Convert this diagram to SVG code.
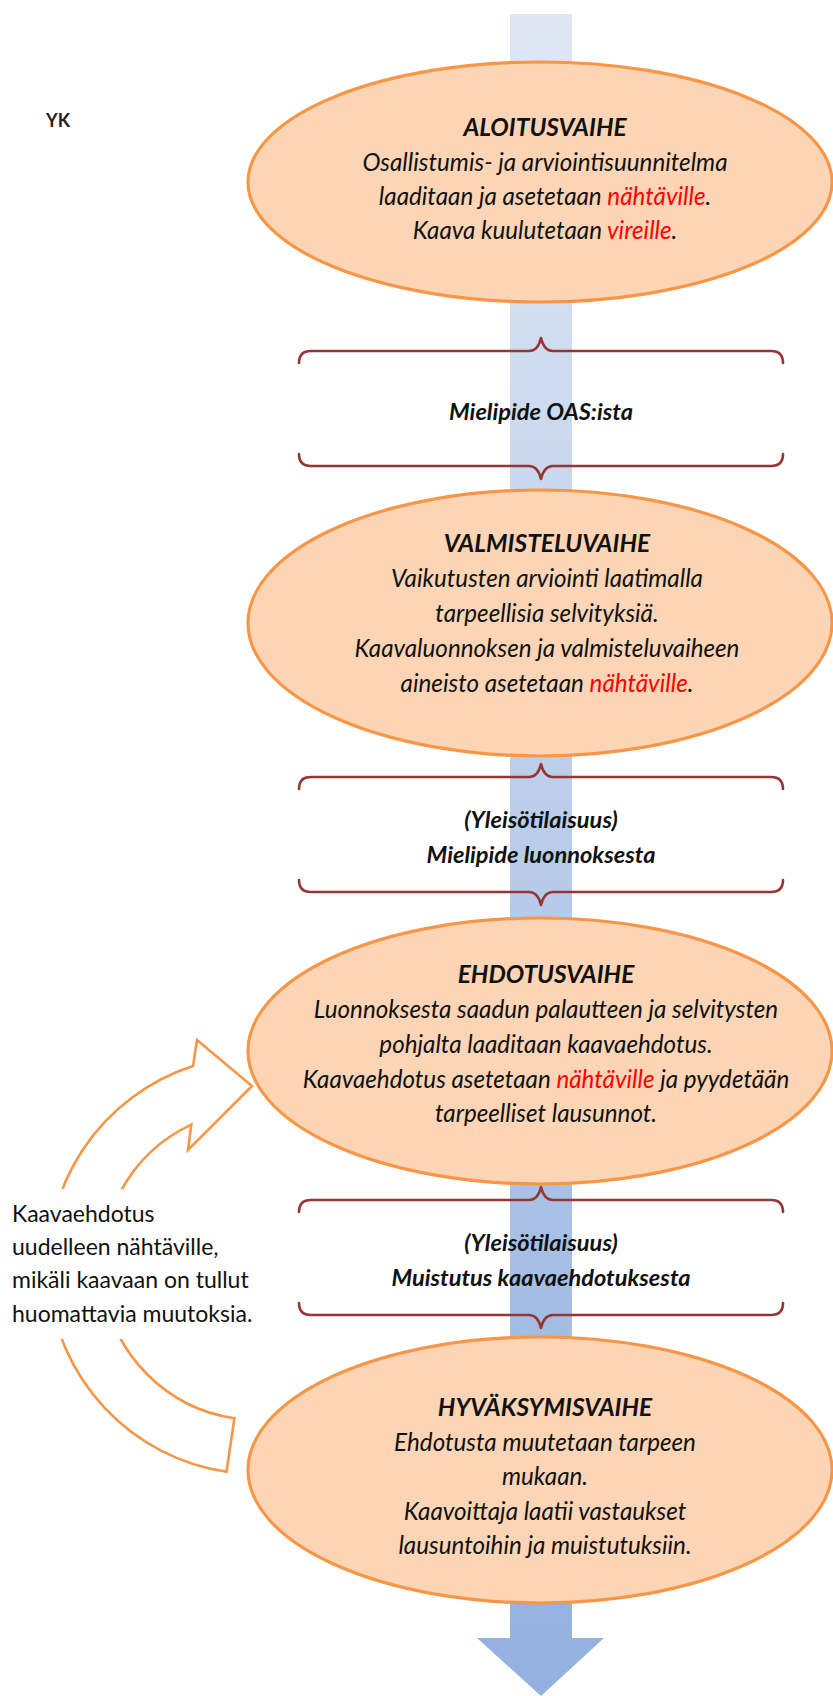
<svg xmlns="http://www.w3.org/2000/svg" width="833" height="1696" viewBox="0 0 833 1696">
<defs>
<linearGradient id="flow" x1="0" y1="14" x2="0" y2="1696" gradientUnits="userSpaceOnUse">
<stop offset="0" stop-color="#DFE7F5"/>
<stop offset="1" stop-color="#93B1DF"/>
</linearGradient>
<style>
.ell{fill:#FBD5B5;stroke:#F79646;stroke-width:3.2}
.brace{fill:none;stroke:#943634;stroke-width:2.6;stroke-linecap:round;stroke-linejoin:round}
.title{font-family:Lato,"Liberation Sans",sans-serif;font-weight:bold;font-style:italic;font-size:24.5px;fill:#111;text-anchor:middle}
.body{font-family:Lato,"Liberation Sans",sans-serif;font-style:italic;font-size:24.2px;fill:#111;text-anchor:middle}
.btxt{font-family:Lato,"Liberation Sans",sans-serif;font-style:italic;font-weight:bold;font-size:23.6px;fill:#111;text-anchor:middle}
.red{fill:#FF0000}
.side{font-family:Lato,"Liberation Sans",sans-serif;font-size:23px;fill:#111}
.loop{fill:#FFFFFF;stroke:#F79646;stroke-width:2.6;stroke-linejoin:miter}
</style>
</defs>
<rect width="833" height="1696" fill="#FFFFFF"/>

<g id="flow-arrow">
<path d="M510,14 L572,14 L572,1638 L604,1638 L541,1696 L477,1638 L510,1638 Z" fill="url(#flow)"/>
</g>

<g id="yk">
<text x="46" y="127" style="font-family:Lato,'Liberation Sans',sans-serif;font-weight:bold;font-size:18px;fill:#222">YK</text>
</g>

<g id="loop-arrow">
<path class="loop" d="M226.5,1471.7 A209,209 0 0 1 193.1,1066 L197,1040 L252,1086 L188,1150 L191.3,1124.6 A155,155 0 0 0 234.4,1418.3 Z"/>
<rect x="0" y="1189" width="262" height="150" fill="#FFFFFF"/>
<text class="side" x="12" y="1222">Kaavaehdotus</text>
<text class="side" x="12" y="1255">uudelleen nähtäville,</text>
<text class="side" x="12" y="1288">mikäli kaavaan on tullut</text>
<text class="side" x="12" y="1322">huomattavia muutoksia.</text>
</g>

<g id="aloitusvaihe">
<ellipse class="ell" cx="540" cy="182" rx="292" ry="120"/>
<text class="title" x="545" y="136">ALOITUSVAIHE</text>
<text class="body" x="545" y="171">Osallistumis- ja arviointisuunnitelma</text>
<text class="body" x="545" y="205">laaditaan ja asetetaan <tspan class="red">nähtäville</tspan>.</text>
<text class="body" x="545" y="239">Kaava kuulutetaan <tspan class="red">vireille</tspan>.</text>
</g>

<g id="valmisteluvaihe">
<ellipse class="ell" cx="540" cy="623" rx="292" ry="133"/>
<text class="title" x="547" y="552">VALMISTELUVAIHE</text>
<text class="body" x="547" y="587">Vaikutusten arviointi laatimalla</text>
<text class="body" x="547" y="622">tarpeellisia selvityksiä.</text>
<text class="body" x="547" y="657">Kaavaluonnoksen ja valmisteluvaiheen</text>
<text class="body" x="547" y="692">aineisto asetetaan <tspan class="red">nähtäville</tspan>.</text>
</g>

<g id="ehdotusvaihe">
<ellipse class="ell" cx="540" cy="1051" rx="292" ry="133"/>
<text class="title" x="546" y="983">EHDOTUSVAIHE</text>
<text class="body" x="546" y="1018">Luonnoksesta saadun palautteen ja selvitysten</text>
<text class="body" x="546" y="1053">pohjalta laaditaan kaavaehdotus.</text>
<text class="body" x="546" y="1088">Kaavaehdotus asetetaan <tspan class="red">nähtäville</tspan> ja pyydetään</text>
<text class="body" x="546" y="1122">tarpeelliset lausunnot.</text>
</g>

<g id="hyvaksymisvaihe">
<ellipse class="ell" cx="540" cy="1470" rx="292" ry="133"/>
<text class="title" x="545" y="1416">HYVÄKSYMISVAIHE</text>
<text class="body" x="545" y="1451">Ehdotusta muutetaan tarpeen</text>
<text class="body" x="545" y="1485">mukaan.</text>
<text class="body" x="545" y="1520">Kaavoittaja laatii vastaukset</text>
<text class="body" x="545" y="1554">lausuntoihin ja muistutuksiin.</text>
</g>

<g id="connectors">
<g id="brace-1">
<path class="brace" d="M299,363 Q299,351 311,351 L529,351 Q538,351 541,338 Q544,351 553,351 L771,351 Q783,351 783,363"/>
<path class="brace" d="M299,454 Q299,466 311,466 L529,466 Q538,466 541,479 Q544,466 553,466 L771,466 Q783,466 783,454"/>
<text class="btxt" x="541" y="420">Mielipide OAS:ista</text>
</g>
<g id="brace-2">
<path class="brace" d="M299,789 Q299,777 311,777 L529,777 Q538,777 541,764 Q544,777 553,777 L771,777 Q783,777 783,789"/>
<path class="brace" d="M299,880 Q299,892 311,892 L529,892 Q538,892 541,905 Q544,892 553,892 L771,892 Q783,892 783,880"/>
<text class="btxt" x="541" y="828">(Yleisötilaisuus)</text>
<text class="btxt" x="541" y="863">Mielipide luonnoksesta</text>
</g>
<g id="brace-3">
<path class="brace" d="M299,1212 Q299,1200 311,1200 L529,1200 Q538,1200 541,1187 Q544,1200 553,1200 L771,1200 Q783,1200 783,1212"/>
<path class="brace" d="M299,1303 Q299,1315 311,1315 L529,1315 Q538,1315 541,1328 Q544,1315 553,1315 L771,1315 Q783,1315 783,1303"/>
<text class="btxt" x="541" y="1251">(Yleisötilaisuus)</text>
<text class="btxt" x="541" y="1286">Muistutus kaavaehdotuksesta</text>
</g>
</g>
</svg>
